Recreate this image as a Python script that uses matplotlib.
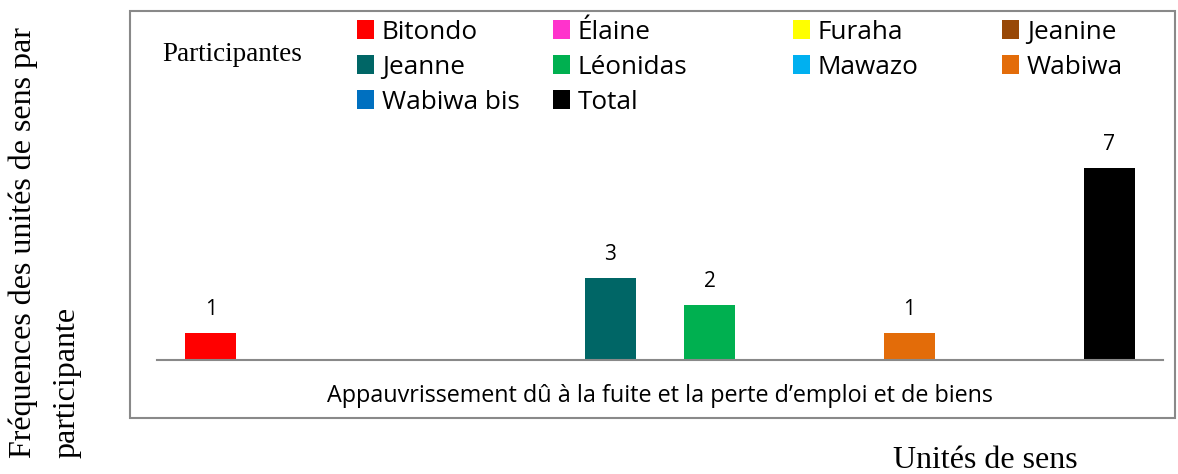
import matplotlib
matplotlib.use("Agg")
import matplotlib.pyplot as plt
from matplotlib.patches import Rectangle

participants = ["Bitondo", "Élaine", "Furaha", "Jeanine", "Jeanne",
                "Léonidas", "Mawazo", "Wabiwa", "Wabiwa bis", "Total"]
frequencies = [1, 0, 0, 0, 3, 2, 0, 1, 0, 7]
bar_colors = ["#FF0000", "#FF33CC", "#FFFF00", "#984807", "#006666",
              "#00B050", "#00B0F0", "#E36C09", "#0070C0", "#000000"]
category = "Appauvrissement dû à la fuite et la perte d\u2019emploi et de biens"

W, H = 1178, 474
SANS = ["Open Sans", "DejaVu Sans"]
SERIF = ["Liberation Serif", "DejaVu Serif"]


def fx(px):
    return px / W


def fy(py):
    # py measured from top of image
    return 1 - py / H


fig = plt.figure(figsize=(W / 100, H / 100), dpi=100)

# outer chart frame
fig.add_artist(Rectangle((fx(130), fy(418)), fx(1175 - 130), (418 - 11) / H,
                         transform=fig.transFigure, fill=False,
                         edgecolor="#898989", linewidth=1.5))

ax_left, ax_right, ax_base, ax_top = 157, 1163, 360, 11
ax = fig.add_axes([fx(ax_left), fy(ax_base), fx(ax_right - ax_left),
                   (ax_base - ax_top) / H])
ax.patch.set_alpha(0)

x = list(range(len(participants)))
bars = ax.bar(x, frequencies, width=0.51, color=bar_colors)
ax.set_xlim(-0.54, len(participants) - 1 + 0.54)
ax.set_ylim(0, (ax_base - ax_top) / 27.4)

for rect, v in zip(bars, frequencies):
    if v:
        ax.annotate(f"{v}", (rect.get_x() + rect.get_width() / 2, v),
                    xytext=(0, 13), textcoords="offset points",
                    ha="center", va="baseline", fontsize=15, family=SANS)

for s in ["top", "left", "right"]:
    ax.spines[s].set_visible(False)
ax.spines["bottom"].set_color("#898989")
ax.spines["bottom"].set_linewidth(1.5)
ax.set_yticks([])
ax.set_xticks([(len(participants) - 1) / 2])
ax.set_xticklabels([category], fontsize=16.8, family=SANS)
ax.tick_params(axis="x", length=0, pad=17.5)

# legend laid out in rows of four, like the original
col_x = [357, 553, 793, 1002]
row_base = [39, 74, 109]
sq_w, sq_h = 17, 19
for i, (name, c) in enumerate(zip(participants, bar_colors)):
    r, k = divmod(i, 4)
    fig.add_artist(Rectangle((fx(col_x[k]), fy(row_base[r])), fx(sq_w), sq_h / H,
                             transform=fig.transFigure, facecolor=c,
                             edgecolor="none"))
    fig.text(fx(col_x[k] + sq_w + 8), fy(row_base[r]), name, fontsize=18.8,
             family=SANS, ha="left", va="baseline")

fig.text(fx(162), fy(61), "Participantes", fontsize=19.5, family=SERIF,
         ha="left", va="baseline")

fig.text(fx(8), fy(458), "Fréquences des unités de sens par\nparticipante",
         rotation=90, ha="left", va="bottom", multialignment="left",
         linespacing=1.7, fontsize=23, family=SERIF)
fig.text(fx(985), fy(468), "Unités de sens", fontsize=23, family=SERIF,
         ha="center", va="baseline")

fig.savefig("out.png", dpi=100)
